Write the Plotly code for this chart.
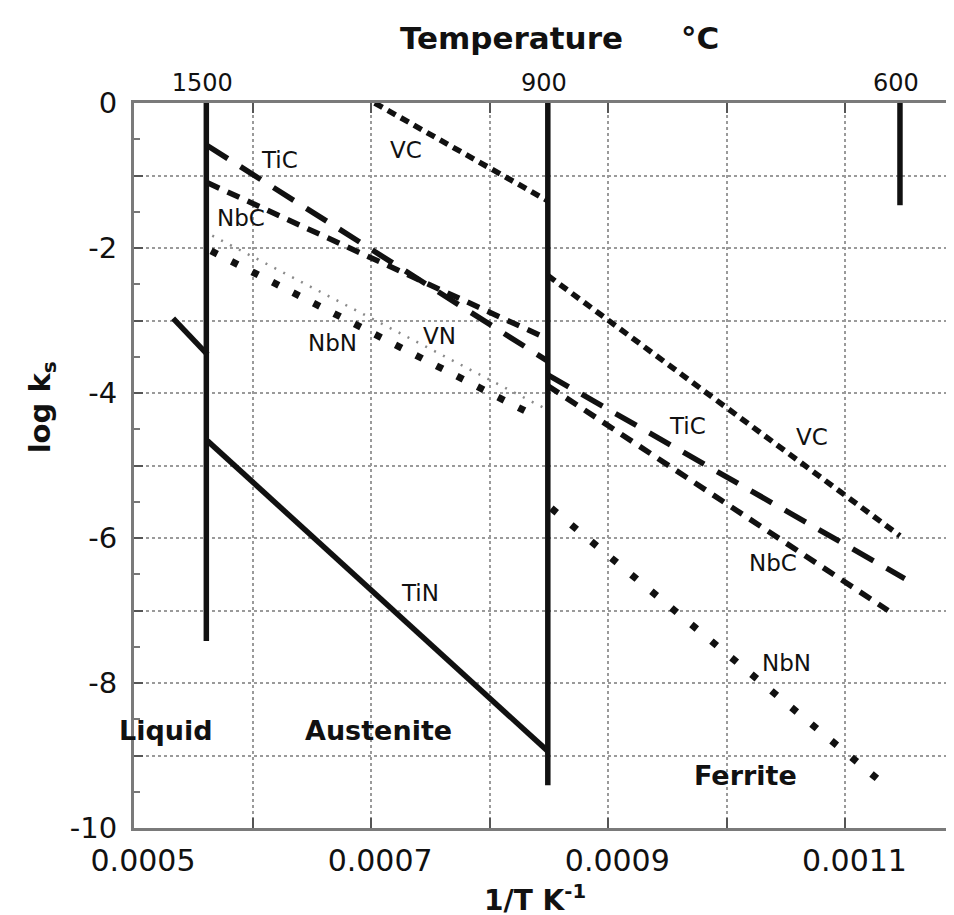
import plotly.graph_objects as go

# ---- data ----
# phase boundary temperatures expressed as 1/T (K^-1)
x_1500 = 0.000561
x_900 = 0.000849
x_600 = 0.001146
top_tick_vals = [x_1500, x_900, x_600]
top_tick_text = ["1500", "900", "600"]

bound_1500_y = [0.0, -7.42]
bound_900_y = [0.0, -9.41]
bound_600_y = [0.0, -1.41]

tin_liq_x = [0.000533, 0.000562]
tin_liq_y = [-2.97, -3.47]
tin_aus_x = [0.000562, 0.000849]
tin_aus_y = [-4.66, -8.94]

vc_aus_x = [0.000703, 0.000849]
vc_aus_y = [0.0, -1.35]
vc_fer_x = [0.000849, 0.001146]
vc_fer_y = [-2.38, -5.97]

tic_aus_x = [0.000562, 0.000849]
tic_aus_y = [-0.59, -3.56]
tic_fer_x = [0.000849, 0.00115]
tic_fer_y = [-3.75, -6.56]

nbc_aus_x = [0.000562, 0.000847]
nbc_aus_y = [-1.10, -3.24]
nbc_fer_x = [0.000849, 0.001136]
nbc_fer_y = [-3.90, -7.00]

nbn_aus_x = [0.000565, 0.000841]
nbn_aus_y = [-2.04, -4.34]
nbn_fer_x = [0.000852, 0.001132]
nbn_fer_y = [-5.59, -9.39]

vn_aus_x = [0.000566, 0.000845]
vn_aus_y = [-1.83, -4.20]

x_tick_vals = [0.0005, 0.0006, 0.0007, 0.0008, 0.0009, 0.0010, 0.0011]
x_tick_text = ["0.0005", "", "0.0007", "", "0.0009", "", "0.0011"]
y_tick_vals = [0, -1, -2, -3, -4, -5, -6, -7, -8, -9, -10]
y_tick_text = ["0", "", "-2", "", "-4", "", "-6", "", "-8", "", "-10"]

# labels: (text, x, y)
series_labels = [
    ("TiC", 0.000623, -0.79), ("VC", 0.000729, -0.65), ("NbC", 0.000590, -1.59),
    ("NbN", 0.000667, -3.31), ("VN", 0.000758, -3.21), ("TiN", 0.000741, -6.76),
    ("TiC", 0.000967, -4.46), ("VC", 0.001072, -4.60), ("NbC", 0.001039, -6.34),
    ("NbN", 0.001050, -7.72),
]
phase_labels = [("Liquid", 0.000527, -8.65), ("Austenite", 0.000706, -8.65),
                ("Ferrite", 0.001016, -9.27)]

FONT = "DejaVu Sans, Liberation Sans, Arial, sans-serif"
BLACK = "#111111"

fig = go.Figure()


def add(x, y, width, dash="solid", color=BLACK):
    fig.add_trace(go.Scatter(x=x, y=y, mode="lines", showlegend=False,
                             hoverinfo="skip",
                             line=dict(color=color, width=width, dash=dash)))


# phase boundaries
add([x_1500, x_1500], bound_1500_y, 5.5)
add([x_900, x_900], bound_900_y, 5.5)
add([x_600, x_600], bound_600_y, 5.5)

# TiN (solid)
add(tin_liq_x, tin_liq_y, 5.5)
add(tin_aus_x, tin_aus_y, 5.5)

# VC (short dash)
add(vc_aus_x, vc_aus_y, 5.5, "9px,6px")
add(vc_fer_x, vc_fer_y, 5.5, "9px,6px")

# TiC (long dash)
add(tic_aus_x, tic_aus_y, 5.5, "24px,15px")
add(tic_fer_x, tic_fer_y, 5.5, "24px,15px")

# NbC (medium dash)
add(nbc_aus_x, nbc_aus_y, 5.5, "13px,9px")
add(nbc_fer_x, nbc_fer_y, 5.5, "13px,9px")

# NbN (large dots)
add(nbn_aus_x, nbn_aus_y, 7, "7px,16px")
add(nbn_fer_x, nbn_fer_y, 7, "7px,19px")

# VN (small grey dots)
add(vn_aus_x, vn_aus_y, 2.5, "2px,8px", "#8a8a8a")

# invisible trace on the top axis
fig.add_trace(go.Scatter(x=[0.0005, 0.0011941], y=[0, 0], xaxis="x2",
                         mode="markers", marker=dict(opacity=0),
                         showlegend=False, hoverinfo="skip"))

annotations = []
for t, x, y in series_labels:
    annotations.append(dict(text=t, x=x, y=y, xref="x", yref="y",
                            showarrow=False,
                            font=dict(family=FONT, size=23, color=BLACK)))
for t, x, y in phase_labels:
    annotations.append(dict(text="<b>" + t + "</b>", x=x, y=y, xref="x",
                            yref="y", showarrow=False,
                            font=dict(family=FONT, size=27, color=BLACK)))

annotations += [
    dict(text="<b>Temperature</b>", x=0.4588, y=1.0897,
         xref="paper", yref="paper", showarrow=False, xanchor="center",
         yanchor="middle", font=dict(family=FONT, size=31, color=BLACK)),
    dict(text="<b>°C</b>", x=0.688, y=1.0897,
         xref="paper", yref="paper", showarrow=False, xanchor="center",
         yanchor="middle", font=dict(family=FONT, size=31, color=BLACK)),
    dict(text="<b>1/T K<sup>-1</sup></b>", x=0.4225, y=-0.097,
         xref="paper", yref="paper", showarrow=False, xanchor="left",
         yanchor="middle", font=dict(family=FONT, size=28, color=BLACK)),
    dict(text="<b>log k<sub>s</sub></b>", x=-0.112, y=0.58,
         xref="paper", yref="paper", showarrow=False, textangle=-90,
         xanchor="center", yanchor="middle",
         font=dict(family=FONT, size=29, color=BLACK)),
]

grid = dict(showgrid=True, gridcolor="#9a9a9a", gridwidth=1.5, griddash="dot")
axis_line = dict(showline=True, linecolor="#7a7a7a", linewidth=3,
                 mirror="ticks", ticks="inside", tickcolor="#555555",
                 zeroline=False)

fig.update_layout(
    width=954, height=915,
    margin=dict(l=126, r=2, t=95, b=95),
    paper_bgcolor="white", plot_bgcolor="white",
    showlegend=False,
    annotations=annotations,
    xaxis=dict(range=[0.0005, 0.0011941], tickvals=x_tick_vals,
               ticktext=x_tick_text, ticklen=10, tickwidth=2,
               ticklabelstandoff=4, ticklabelshift=9,
               tickfont=dict(family=FONT, size=30, color=BLACK),
               **grid, **axis_line),
    xaxis2=dict(overlaying="x", side="top", matches="x",
                range=[0.0005, 0.0011941], tickvals=top_tick_vals,
                ticktext=top_tick_text, ticks="", showgrid=False,
                showline=False, zeroline=False, ticklabelstandoff=6,
                ticklabelshift=-4,
                tickfont=dict(family=FONT, size=24, color=BLACK)),
    yaxis=dict(range=[-10, 0], tickvals=y_tick_vals, ticktext=y_tick_text,
               ticklen=9, tickwidth=2, ticklabelstandoff=8,
               tickfont=dict(family=FONT, size=29, color=BLACK),
               minor=dict(dtick=0.5, tick0=0.5, ticks="inside", ticklen=6,
                          tickcolor="#777777", showgrid=False),
               **grid, **axis_line),
)

fig.write_html("out.html")
